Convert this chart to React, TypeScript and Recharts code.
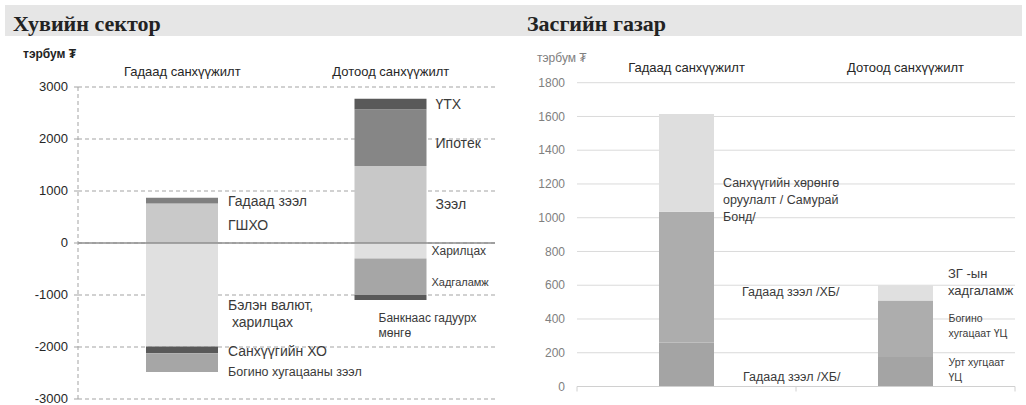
import { Bar, BarChart, CartesianGrid, Cell, LabelList, ReferenceLine, XAxis, YAxis } from "recharts"

// ---- Хувийн сектор (тэрбум ₮) ----
const privateCategories = ["Гадаад санхүүжилт", "Дотоод санхүүжилт"]
// positive stack, bottom → top
const privatePos1 = [760, 1480] // ГШХО | Зээл
const privatePos2 = [110, 1090] // Гадаад зээл | Ипотек
const privatePos3 = [0, 205] // – | ҮТХ
// negative stack, 0 → down
const privateNeg1 = [-1990, -300] // Бэлэн валют, харилцах | Харилцах
const privateNeg2 = [-130, -700] // Санхүүгийн ХО | Хадгаламж
const privateNeg3 = [-360, -95] // Богино хугацааны зээл | Банкнаас гадуурх мөнгө
const privateTicks = [-3000, -2000, -1000, 0, 1000, 2000, 3000]

const privatePos1Labels = [["ГШХО"], ["Зээл"]]
const privatePos2Labels = [["Гадаад зээл"], ["Ипотек"]]
const privatePos3Labels = [[], ["ҮТХ"]]
const privateNeg1Labels = [["Бэлэн валют,", " харилцах"], ["Харилцах"]]
const privateNeg2Labels = [["Санхүүгийн ХО"], ["Хадгаламж"]]
const privateNeg3Labels = [["Богино хугацааны зээл"], ["Банкнаас гадуурх", "мөнгө"]]

// ---- Засгийн газар (тэрбум ₮) ----
const govCategories = ["Гадаад санхүүжилт", "Дотоод санхүүжилт"]
const govStack1 = [260, 175] // Гадаад зээл /ХБ/ | Урт хугцаат ҮЦ
const govStack2 = [775, 335] // Гадаад зээл /ХБ/ | Богино хугацаат ҮЦ
const govStack3 = [580, 90] // Самурай бонд | ЗГ-ын хадгаламж
const govTicks = [0, 200, 400, 600, 800, 1000, 1200, 1400, 1600, 1800]

const govStack1Labels = [["Гадаад зээл /ХБ/"], ["Урт хугцаат", "ҮЦ"]]
const govStack2Labels = [["Гадаад зээл /ХБ/"], ["Богино", "хугацаат ҮЦ"]]
const govStack3Labels = [["Санхүүгийн хөрөнгө", "оруулалт / Самурай", "Бонд/"], ["ЗГ -ын", "хадгаламж"]]

const privateData = privateCategories.map((name, i) => ({
  name,
  pos1: privatePos1[i],
  pos2: privatePos2[i],
  pos3: privatePos3[i],
  neg1: privateNeg1[i],
  neg2: privateNeg2[i],
  neg3: privateNeg3[i],
}))

const govData = govCategories.map((name, i) => ({
  name,
  g1: govStack1[i],
  g2: govStack2[i],
  g3: govStack3[i],
}))

const FONT = "'Liberation Sans', Arial, sans-serif"
const LABEL_COLOR = "#3a3a3a"

interface LabelStyle {
  dx: number
  dy: number
  fs: number
  lh?: number
}

/** Text to the right of a stacked segment, centred on it, nudged by dx/dy. */
const segmentLabel = (values: number[], texts: string[][], styles: LabelStyle[]) => (props: any) => {
  const { x, y, width, height } = props
  let v = props.value
  if (Array.isArray(v)) v = v[1] - v[0]
  let index = values.indexOf(Number(v))
  if (index < 0) index = props.index
  const lines = texts[index]
  if (!lines || !lines.length) return null
  const s = styles[index]
  const tx = Number(x) + Number(width) + s.dx
  const cy = Number(y) + Number(height) / 2 + s.dy
  const lh = s.lh ?? s.fs * 1.2
  const y0 = cy - ((lines.length - 1) * lh) / 2
  return (
    <text
      x={tx}
      y={y0}
      fontSize={s.fs}
      fill={LABEL_COLOR}
      fontFamily={FONT}
      dominantBaseline="central"
      style={{ whiteSpace: "pre" }}
    >
      {lines.map((l, i) => (
        <tspan key={i} x={tx} dy={i ? lh : 0}>
          {l}
        </tspan>
      ))}
    </text>
  )
}

const categoryTick = (dy: number) => (props: any) => {
  const { x, y, payload } = props
  return (
    <text x={x} y={y} dy={dy} textAnchor="middle" dominantBaseline="central" fontSize={13} fill="#262626" fontFamily={FONT}>
      {payload.value}
    </text>
  )
}

const GOV_W = 516
const GOV_MARGIN = { top: 62.7, right: 11, bottom: 8.5, left: 0 }
const GOV_YAXIS_W = 67
const govHalfBand = (GOV_W - GOV_YAXIS_W - GOV_MARGIN.right - GOV_MARGIN.left) / govCategories.length / 2

const boundaryTick = (props: any) => {
  const { x, y, index } = props
  const last = index === govCategories.length - 1
  return (
    <g>
      <line x1={x - govHalfBand} x2={x - govHalfBand} y1={y} y2={y + 5} stroke="#d0d0d0" />
      {last && <line x1={x + govHalfBand} x2={x + govHalfBand} y1={y} y2={y + 5} stroke="#d0d0d0" />}
    </g>
  )
}

function PrivateChart() {
  return (
    <BarChart
      width={510}
      height={405}
      data={privateData}
      stackOffset="sign"
      barSize={72}
      margin={{ top: 67, right: 15, bottom: 6, left: 0 }}
    >
      <CartesianGrid vertical={false} stroke="#a3a3a3" strokeDasharray="4 3" />
      <XAxis
        dataKey="name"
        orientation="top"
        height={20}
        axisLine={false}
        tickLine={false}
        tickSize={0}
        tickMargin={0}
        tick={categoryTick(-16)}
        interval={0}
      />
      <YAxis
        type="number"
        domain={[-3000, 3000]}
        ticks={privateTicks}
        width={78}
        axisLine={{ stroke: "#a3a3a3", strokeDasharray: "4 3" }}
        tickLine={{ stroke: "#a3a3a3" }}
        tickSize={4}
        tickMargin={6}
        tick={{ fontSize: 13, fill: "#262626", fontFamily: FONT, dy: -1 }}
        interval={0}
      />
      <ReferenceLine y={0} stroke="#8e8e8e" strokeWidth={1.6} />
      <Bar dataKey="pos1" stackId="s" isAnimationActive={false}>
        {["#c9c9c9", "#c8c8c8"].map((c, i) => (
          <Cell key={i} fill={c} />
        ))}
        <LabelList
          dataKey="pos1"
          content={segmentLabel(privatePos1, privatePos1Labels, [
            { dx: 10, dy: 2, fs: 14 },
            { dx: 9, dy: -1, fs: 14 },
          ])}
        />
      </Bar>
      <Bar dataKey="pos2" stackId="s" isAnimationActive={false}>
        {["#7f7f7f", "#868686"].map((c, i) => (
          <Cell key={i} fill={c} />
        ))}
        <LabelList
          dataKey="pos2"
          content={segmentLabel(privatePos2, privatePos2Labels, [
            { dx: 10, dy: 0, fs: 14 },
            { dx: 9, dy: 5, fs: 14 },
          ])}
        />
      </Bar>
      <Bar dataKey="pos3" stackId="s" isAnimationActive={false}>
        {["#595959", "#595959"].map((c, i) => (
          <Cell key={i} fill={c} />
        ))}
        <LabelList
          dataKey="pos3"
          content={segmentLabel(privatePos3, privatePos3Labels, [
            { dx: 9, dy: 0, fs: 14 },
            { dx: 9, dy: 0, fs: 14 },
          ])}
        />
      </Bar>
      <Bar dataKey="neg1" stackId="s" isAnimationActive={false}>
        {["#e0e0e0", "#e0e0e0"].map((c, i) => (
          <Cell key={i} fill={c} />
        ))}
        <LabelList
          dataKey="neg1"
          content={segmentLabel(privateNeg1, privateNeg1Labels, [
            { dx: 10, dy: 19, fs: 14, lh: 17 },
            { dx: 5, dy: 0, fs: 12 },
          ])}
        />
      </Bar>
      <Bar dataKey="neg2" stackId="s" isAnimationActive={false}>
        {["#595959", "#a6a6a6"].map((c, i) => (
          <Cell key={i} fill={c} />
        ))}
        <LabelList
          dataKey="neg2"
          content={segmentLabel(privateNeg2, privateNeg2Labels, [
            { dx: 10, dy: 1, fs: 14 },
            { dx: 5, dy: 5, fs: 11 },
          ])}
        />
      </Bar>
      <Bar dataKey="neg3" stackId="s" isAnimationActive={false}>
        {["#a6a6a6", "#595959"].map((c, i) => (
          <Cell key={i} fill={c} />
        ))}
        <LabelList
          dataKey="neg3"
          content={segmentLabel(privateNeg3, privateNeg3Labels, [
            { dx: 10, dy: 9, fs: 12.5 },
            { dx: -48, dy: 28, fs: 12, lh: 15 },
          ])}
        />
      </Bar>
    </BarChart>
  )
}

function GovChart() {
  return (
    <BarChart width={GOV_W} height={405} data={govData} barSize={55} margin={GOV_MARGIN}>
      <CartesianGrid vertical={false} stroke="#dadada" xAxisId="bottom" />
      <XAxis
        xAxisId="top"
        dataKey="name"
        orientation="top"
        height={20}
        axisLine={false}
        tickLine={false}
        tickSize={0}
        tickMargin={0}
        tick={categoryTick(-15)}
        interval={0}
      />
      <XAxis
        xAxisId="bottom"
        dataKey="name"
        orientation="bottom"
        height={10}
        axisLine={{ stroke: "#d0d0d0" }}
        tickLine={false}
        tickSize={0}
        tickMargin={0}
        tick={boundaryTick}
        interval={0}
      />
      <YAxis
        type="number"
        domain={[0, 1800]}
        ticks={govTicks}
        width={GOV_YAXIS_W}
        axisLine={false}
        tickLine={false}
        tickSize={0}
        tickMargin={12}
        tick={{ fontSize: 12, fill: "#808080", fontFamily: FONT }}
        interval={0}
      />
      <Bar dataKey="g1" stackId="g" xAxisId="bottom" isAnimationActive={false}>
        {["#a4a4a4", "#a4a4a4"].map((c, i) => (
          <Cell key={i} fill={c} />
        ))}
        <LabelList
          dataKey="g1"
          content={segmentLabel(govStack1, govStack1Labels, [
            { dx: 29, dy: 12, fs: 12.5 },
            { dx: 15.5, dy: -2.5, fs: 10.5, lh: 15 },
          ])}
        />
      </Bar>
      <Bar dataKey="g2" stackId="g" xAxisId="bottom" isAnimationActive={false}>
        {["#adadad", "#adadad"].map((c, i) => (
          <Cell key={i} fill={c} />
        ))}
        <LabelList
          dataKey="g2"
          content={segmentLabel(govStack2, govStack2Labels, [
            { dx: 28, dy: 15, fs: 12.5 },
            { dx: 15.5, dy: -3, fs: 10.5, lh: 14.4 },
          ])}
        />
      </Bar>
      <Bar dataKey="g3" stackId="g" xAxisId="bottom" isAnimationActive={false}>
        {["#dedede", "#e0e0e0"].map((c, i) => (
          <Cell key={i} fill={c} />
        ))}
        <LabelList
          dataKey="g3"
          content={segmentLabel(govStack3, govStack3Labels, [
            { dx: 9, dy: 37, fs: 12.5, lh: 17 },
            { dx: 15, dy: -11, fs: 13, lh: 16.7 },
          ])}
        />
      </Bar>
    </BarChart>
  )
}

export default function App() {
  return (
    <div
      style={{
        position: "absolute",
        left: 0,
        top: 0,
        width: 1026,
        height: 405,
        background: "#fff",
        fontFamily: FONT,
        overflow: "hidden",
      }}
    >
      <svg width={1026} height={80} style={{ position: "absolute", left: 0, top: 0 }}>
        <rect x={5} y={5} width={1017} height={31} fill="#e6e6e6" />
        <text x={13} y={30.5} fontFamily="'Liberation Serif', 'Times New Roman', serif" fontWeight="bold" fontSize={22} fill="#222">
          Хувийн сектор
        </text>
        <text x={527} y={30.5} fontFamily="'Liberation Serif', 'Times New Roman', serif" fontWeight="bold" fontSize={22} fill="#222">
          Засгийн газар
        </text>
        <text x={23} y={54} dominantBaseline="central" fontSize={12} fontWeight="bold" fill="#222" fontFamily={FONT}>
          тэрбум ₮
        </text>
        <text x={537} y={58} dominantBaseline="central" fontSize={12} fill="#808080" fontFamily={FONT}>
          тэрбум ₮
        </text>
      </svg>
      <div style={{ position: "absolute", left: 0, top: 0 }}>
        <PrivateChart />
      </div>
      <div style={{ position: "absolute", left: 510, top: 0 }}>
        <GovChart />
      </div>
    </div>
  )
}
